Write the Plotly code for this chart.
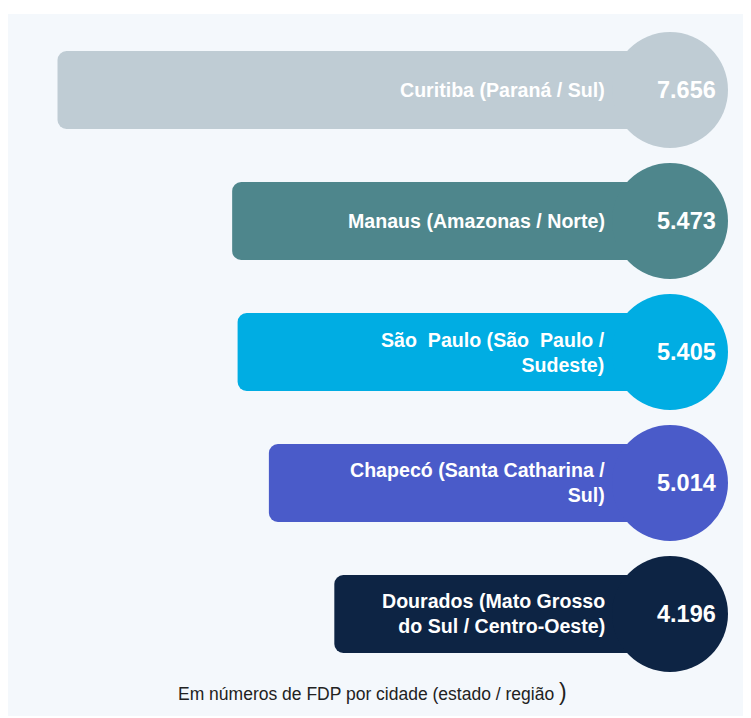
import plotly.graph_objects as go

cities = [
    "Curitiba (Paraná / Sul)",
    "Manaus (Amazonas / Norte)",
    "São\u00a0 Paulo (São\u00a0 Paulo /<br>Sudeste)",
    "Chapecó (Santa Catharina /<br>Sul)",
    "Dourados (Mato Grosso<br>do Sul / Centro-Oeste)",
]
values = [7.656, 5.473, 5.405, 5.014, 4.196]
value_labels = ["7.656", "5.473", "5.405", "5.014", "4.196"]
colors = ["#bfccd4", "#4e868c", "#00ade3", "#4a5bc9", "#0d2444"]
footer = "Em números de FDP por cidade (estado / região <span style='font-size:23px'>)</span>"

# page body adds an 8px margin, so the figure is 8px smaller than the window
W, H = 743, 710
keys = [f"c{i}" for i in range(len(cities))]

fig = go.Figure()

fig.add_shape(type="rect", xref="paper", yref="paper",
              x0=0, x1=1, y0=1 - 708 / H, y1=1 - 6 / H,
              fillcolor="#f4f8fc", line_width=0, layer="below")

fig.add_trace(go.Bar(
    y=keys, x=values, base=0, orientation="h",
    marker=dict(color=colors, line_width=0, cornerradius=9),
    width=0.595, hoverinfo="skip", showlegend=False,
))

fig.add_trace(go.Scatter(
    y=keys, x=[0] * len(keys), mode="markers",
    marker=dict(size=116, color=colors, line_width=0, opacity=1),
    hoverinfo="skip", showlegend=False,
))

for k, c, vl in zip(keys, cities, value_labels):
    fig.add_annotation(x=0, y=k, xref="x", yref="y", text=f"<b>{c}</b>",
                       showarrow=False, xanchor="right", xshift=-63, align="right",
                       font=dict(family="Liberation Sans, Arial", size=19.6, color="white"))
    fig.add_annotation(x=0, y=k, xref="x", yref="y", text=f"<b>{vl}</b>",
                       showarrow=False, xanchor="center", xshift=16,
                       font=dict(family="Liberation Sans, Arial", size=23.5, color="white"))

fig.add_annotation(x=364 / W, y=1 - 684 / H, xref="paper", yref="paper",
                   text=footer, showarrow=False, xanchor="center", yanchor="middle",
                   font=dict(family="Liberation Sans, Arial", size=17.5, color="#222222"))

fig.update_layout(
    width=W, height=H,
    margin=dict(l=0, r=0, t=0, b=0),
    paper_bgcolor="white", plot_bgcolor="rgba(0,0,0,0)",
    xaxis=dict(range=[662 / 80, -81 / 80], visible=False, showgrid=False, zeroline=False),
    yaxis=dict(type="category", categoryarray=keys, range=[4.794, -0.626],
               visible=False, showgrid=False, zeroline=False),
    barmode="overlay",
)

fig.write_html("out.html")
